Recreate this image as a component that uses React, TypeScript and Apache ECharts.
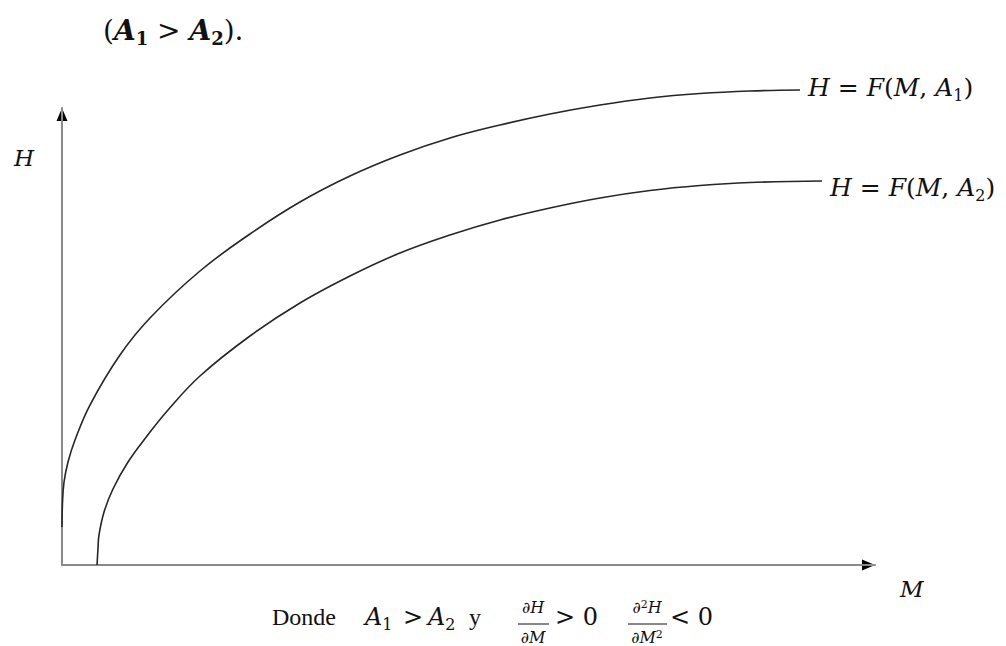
import { useEffect, useRef } from "react";
import * as echarts from "echarts";

// Production curve H = F(M, A1): input M and output H (arbitrary units)
const curveA1M = [0, 0.06, 0.25, 0.74, 1.6, 3.44, 7.13, 10.82, 16.97, 23.12, 29.27, 35.42, 41.57, 47.72, 53.87, 60.02, 66.17, 72.32, 78.47, 84.62, 90.77];
const curveA1H = [8.32, 13.57, 18.16, 22.54, 27.35, 35.01, 45.95, 54.05, 64.33, 72.43, 79.43, 85.12, 89.72, 93.44, 96.28, 98.69, 100.66, 102.19, 103.17, 103.72, 103.94];

// Production curve H = F(M, A2)
const curveA2M = [4.31, 4.43, 4.55, 5.17, 6.27, 8.12, 10.46, 13.04, 16.97, 23.12, 29.27, 35.42, 41.57, 47.72, 53.87, 60.02, 66.17, 72.32, 78.47, 84.62, 93.48];
const curveA2H = [0, 3.72, 6.56, 11.6, 16.63, 22.54, 28.23, 33.92, 41.36, 50.11, 57.33, 63.24, 68.27, 72.21, 75.49, 78.12, 80.31, 81.95, 83.04, 83.7, 84.03];

const axisRange = { xMax: 100, yMax: 100 };

const MATH_FONT = "DejaVu Serif";
const TEXT_FONT = "Liberation Serif";

const pairs = (xs: number[], ys: number[]) => xs.map((x, i) => [x, ys[i]]);

export default function App() {
  const ref = useRef<HTMLDivElement>(null);

  useEffect(() => {
    if (!ref.current) return;
    const chart = echarts.init(ref.current, null, { renderer: "svg" });

    const richFor = (size: number) => ({
      i: { fontFamily: MATH_FONT, fontStyle: "italic", fontSize: size, lineHeight: size + 7, fill: "#111" },
      n: { fontFamily: MATH_FONT, fontSize: size, lineHeight: size + 7, fill: "#111" },
      s: { fontFamily: MATH_FONT, fontSize: Math.round(size * 0.65), lineHeight: Math.round(size * 0.7), verticalAlign: "bottom", fill: "#111" },
    });
    const labelRich = richFor(25);
    const noteRich = richFor(24);

    const mathText = (text: string, x: number, y: number, rich: any) => ({
      type: "text",
      x,
      y,
      style: { text, rich, verticalAlign: "middle" },
    });

    const fracPart = (text: string, x: number, y: number) => ({
      type: "text",
      x,
      y,
      style: {
        text,
        font: `italic 16px ${MATH_FONT}`,
        fill: "#111",
        align: "center",
        verticalAlign: "middle",
        rich: {
          sup: { fontFamily: MATH_FONT, fontSize: 11, verticalAlign: "top", lineHeight: 11 },
        },
      },
    });

    const curveStyle = { color: "#262626", width: 1.6 };

    chart.setOption({
      animation: false,
      backgroundColor: "#ffffff",
      grid: { left: 62, top: 108, width: 813, height: 457, containLabel: false },
      xAxis: {
        type: "value",
        min: 0,
        max: axisRange.xMax,
        axisLine: { show: true, lineStyle: { color: "#8a8a8a", width: 2 } },
        axisTick: { show: false },
        axisLabel: { show: false },
        splitLine: { show: false },
      },
      yAxis: {
        type: "value",
        min: 0,
        max: axisRange.yMax,
        axisLine: { show: true, lineStyle: { color: "#8a8a8a", width: 2 } },
        axisTick: { show: false },
        axisLabel: { show: false },
        splitLine: { show: false },
      },
      series: [
        {
          name: "H = F(M, A1)",
          type: "line",
          data: pairs(curveA1M, curveA1H),
          showSymbol: false,
          smooth: 0.4,
          clip: false,
          lineStyle: curveStyle,
        },
        {
          name: "H = F(M, A2)",
          type: "line",
          data: pairs(curveA2M, curveA2H),
          showSymbol: false,
          smooth: 0.4,
          clip: false,
          lineStyle: curveStyle,
        },
      ],
      graphic: [
        // arrowheads on both axes
        { type: "polygon", shape: { points: [[875, 565], [862, 559.5], [862, 570.5]] }, style: { fill: "#000" } },
        { type: "polygon", shape: { points: [[62, 108], [56.5, 121], [67.5, 121]] }, style: { fill: "#000" } },

        // heading
        {
          type: "text",
          x: 103,
          y: 30,
          style: {
            text: "{op|(}{b|A}{bs|1}{op| > }{b|A}{bs|2}{op|).}",
            fill: "#111",
            verticalAlign: "middle",
            rich: {
              b: { fontFamily: MATH_FONT, fontStyle: "italic", fontWeight: "bold", fontSize: 28, lineHeight: 34 },
              bs: { fontFamily: MATH_FONT, fontWeight: "bold", fontSize: 18, lineHeight: 18, verticalAlign: "bottom" },
              op: { fontFamily: MATH_FONT, fontSize: 28, lineHeight: 34 },
            },
          },
        },

        // axis names
        { type: "text", x: 14, y: 158, style: { text: "H", font: `italic 23px ${MATH_FONT}`, fill: "#111", verticalAlign: "middle" } },
        { type: "text", x: 900, y: 589, style: { text: "M", font: `italic 23px ${MATH_FONT}`, fill: "#111", verticalAlign: "middle" } },

        // curve labels
        mathText("{i|H}{n| = }{i|F}{n|(}{i|M}{n|, }{i|A}{s|1}{n|)}", 808, 87, labelRich),
        mathText("{i|H}{n| = }{i|F}{n|(}{i|M}{n|, }{i|A}{s|2}{n|)}", 830, 187, labelRich),

        // footnote: Donde A1 > A2  y  dH/dM > 0  d2H/dM2 < 0
        { type: "text", x: 272, y: 617, style: { text: "Donde", font: `24px ${TEXT_FONT}`, fill: "#111", verticalAlign: "middle" } },
        mathText("{i|A}{s|1}", 365, 617, noteRich),
        mathText("{n|>}", 403, 617, noteRich),
        mathText("{i|A}{s|2}", 428, 617, noteRich),
        { type: "text", x: 469, y: 617, style: { text: "y", font: `24px ${TEXT_FONT}`, fill: "#111", verticalAlign: "middle" } },
        fracPart("∂H", 533, 607),
        { type: "line", shape: { x1: 518, y1: 624, x2: 549, y2: 624 }, style: { stroke: "#111", lineWidth: 1 } },
        fracPart("∂M", 533, 637),
        mathText("{n|> 0}", 555, 617, noteRich),
        fracPart("∂{sup|2}H", 647, 607),
        { type: "line", shape: { x1: 628, y1: 624, x2: 667, y2: 624 }, style: { stroke: "#111", lineWidth: 1 } },
        fracPart("∂M{sup|2}", 647, 637),
        mathText("{n|< 0}", 670, 617, noteRich),
      ],
    });

    return () => chart.dispose();
  }, []);

  return <div ref={ref} style={{ position: "fixed", left: 0, top: 0, width: 1006, height: 646 }} />;
}
